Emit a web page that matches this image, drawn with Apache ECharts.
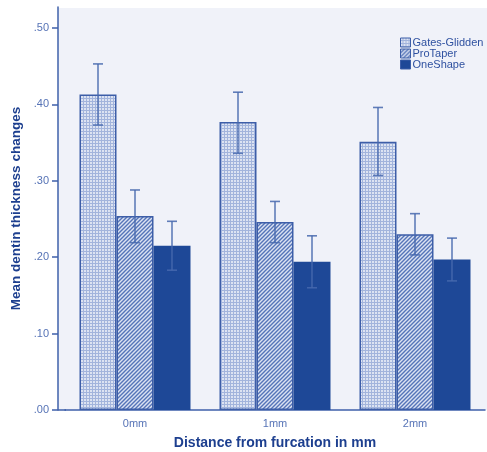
<!DOCTYPE html>
<html>
<head>
<meta charset="utf-8">
<script src="https://cdn.jsdelivr.net/npm/echarts@6/dist/echarts.min.js"></script>
<style>
  html, body { margin: 0; padding: 0; background: #fff; }
  #chart { width: 487px; height: 452px; }
</style>
</head>
<body>
<div id="chart"></div>
<script>
// data
var categories = ['0mm', '1mm', '2mm'];
var seriesNames = ['Gates-Glidden', 'ProTaper', 'OneShape'];
var gatesMean = [0.413, 0.377, 0.351];
var gatesLow = [0.373, 0.336, 0.307];
var gatesHigh = [0.453, 0.416, 0.396];
var proMean = [0.254, 0.246, 0.230];
var proLow = [0.219, 0.219, 0.203];
var proHigh = [0.288, 0.273, 0.257];
var oneMean = [0.215, 0.194, 0.197];
var oneLow = [0.183, 0.160, 0.169];
var oneHigh = [0.247, 0.228, 0.225];
var yTicks = [0, 0.1, 0.2, 0.3, 0.4, 0.5];

var axisColor = '#3f60aa';
var labelColor = '#5673b6';
var titleColor = '#1d3f8f';
var barBorder = '#3d5ea8';
var solidBlue = '#1e4897';
var errColor = 'rgba(70,104,174,0.85)';
var barW = 37;

// fill patterns
function gridPattern() {
  var c = document.createElement('canvas');
  c.width = 3; c.height = 3;
  var g = c.getContext('2d');
  g.fillStyle = '#dce3f2';
  g.fillRect(0, 0, 3, 3);
  g.fillStyle = '#a2b4dc';
  g.fillRect(2, 0, 1, 3);
  g.fillRect(0, 2, 3, 1);
  return c;
}
function hatchPattern() {
  var c = document.createElement('canvas');
  c.width = 4; c.height = 4;
  var g = c.getContext('2d');
  g.fillStyle = '#dbe2f2';
  g.fillRect(0, 0, 4, 4);
  g.strokeStyle = '#5574b8';
  g.lineWidth = 1.4;
  g.beginPath();
  g.moveTo(-1, 5); g.lineTo(5, -1);
  g.moveTo(-1, 1); g.lineTo(1, -1);
  g.moveTo(3, 5); g.lineTo(5, 3);
  g.stroke();
  return c;
}

var fills = [
  { image: gridPattern(), repeat: 'repeat' },
  { image: hatchPattern(), repeat: 'repeat' },
  solidBlue
];
var means = [gatesMean, proMean, oneMean];
var lows = [gatesLow, proLow, oneLow];
var highs = [gatesHigh, proHigh, oneHigh];

var errData = [];
for (var s = 0; s < 3; s++) {
  for (var i = 0; i < categories.length; i++) {
    errData.push([i, lows[s][i], highs[s][i], s]);
  }
}

var series = seriesNames.map(function (name, s) {
  return {
    name: name,
    type: 'bar',
    barWidth: barW,
    barGap: '0%',
    data: means[s],
    itemStyle: {
      color: fills[s],
      borderColor: s === 2 ? solidBlue : barBorder,
      borderWidth: 1.5
    },
    emphasis: { disabled: true }
  };
});

series.push({
  type: 'custom',
  name: 'err',
  z: 5,
  data: errData,
  renderItem: function (params, api) {
    var off = (api.value(3) - 1) * barW;
    var lo = api.coord([api.value(0), api.value(1)]);
    var hi = api.coord([api.value(0), api.value(2)]);
    var x = lo[0] + off;
    var style = { stroke: errColor, lineWidth: 1.6 };
    return {
      type: 'group',
      children: [
        { type: 'line', shape: { x1: x, y1: lo[1], x2: x, y2: hi[1] }, style: style },
        { type: 'line', shape: { x1: x - 5, y1: hi[1], x2: x + 5, y2: hi[1] }, style: style },
        { type: 'line', shape: { x1: x - 5, y1: lo[1], x2: x + 5, y2: lo[1] }, style: style }
      ]
    };
  }
});

var chart = echarts.init(document.getElementById('chart'));
chart.setOption({
  animation: false,
  backgroundColor: '#ffffff',
  textStyle: { fontFamily: 'Liberation Sans, Arial, sans-serif' },
  graphic: [
    {
      type: 'rect', z: -10, silent: true,
      shape: { x: 58, y: 8, width: 429, height: 402 },
      style: { fill: '#f0f2f9' }
    },
    {
      type: 'line', z: 10, silent: true,
      shape: { x1: 58, y1: 410, x2: 66, y2: 410 },
      style: { stroke: axisColor, lineWidth: 1.5 }
    }
  ],
  legend: {
    orient: 'vertical',
    left: 400,
    top: 37,
    padding: 0,
    itemGap: 0,
    itemWidth: 10,
    itemHeight: 9,
    icon: 'rect',
    data: seriesNames,
    itemStyle: { borderColor: barBorder, borderWidth: 1 },
    textStyle: { fontSize: 11, color: '#2f51a0', padding: [0, 0, 0, -3] }
  },
  grid: { left: 65, right: 2, top: 7, bottom: 42, outerBoundsMode: 'none' },
  xAxis: {
    type: 'category',
    data: categories,
    axisLine: { lineStyle: { color: axisColor, width: 1.5 } },
    axisTick: { alignWithLabel: true, length: 5, lineStyle: { color: axisColor, width: 1.5 } },
    axisLabel: { color: labelColor, fontSize: 11, margin: 8 },
    name: 'Distance from furcation in mm',
    nameLocation: 'middle',
    nameGap: 26,
    nameTextStyle: { color: titleColor, fontSize: 14, fontWeight: 'bold' }
  },
  yAxis: {
    type: 'value',
    min: 0,
    max: 0.5275,
    offset: 7,
    splitLine: { show: false },
    axisLine: { show: true, lineStyle: { color: axisColor, width: 1.5 } },
    axisTick: { show: true, length: 6, customValues: yTicks, lineStyle: { color: axisColor, width: 1.5 } },
    axisLabel: {
      color: labelColor, fontSize: 11, margin: 9,
      customValues: yTicks,
      formatter: function (v) { return v.toFixed(2).replace(/^0/, ''); }
    },
    name: 'Mean dentin thickness changes',
    nameLocation: 'middle',
    nameGap: 32,
    nameTextStyle: { color: titleColor, fontSize: 13.5, fontWeight: 'bold' }
  },
  series: series
});
</script>
</body>
</html>
